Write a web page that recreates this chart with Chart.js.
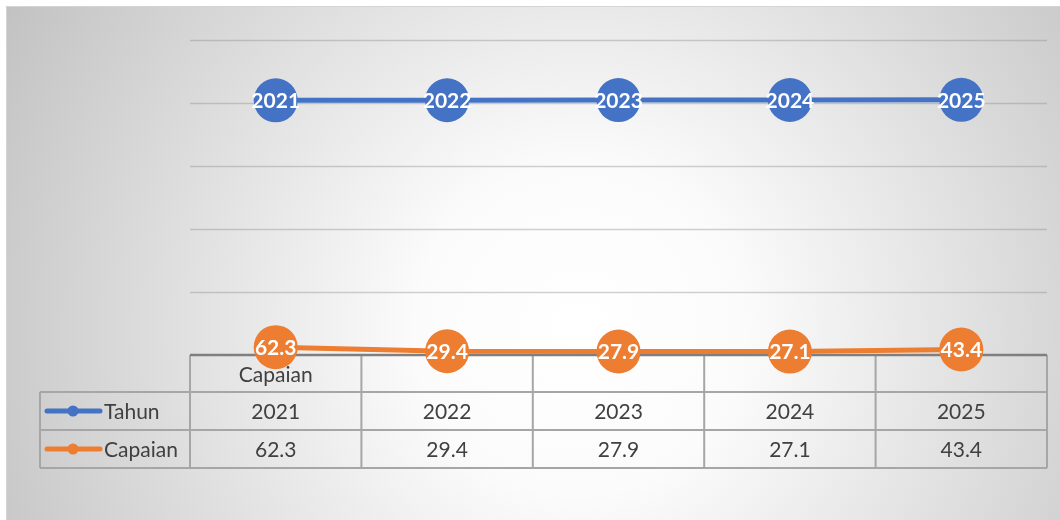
<!DOCTYPE html>
<html>
<head>
<meta charset="utf-8">
<script src="https://cdn.jsdelivr.net/npm/chart.js@4.4.1/dist/chart.umd.min.js"></script>
<style>
  html, body { margin: 0; padding: 0; background: #fff; overflow: hidden; }
  #wrap { width: 1060px; height: 520px; }
</style>
</head>
<body>
<div id="wrap"><canvas id="chart"></canvas></div>
<script>
const headerLabels = ['Capaian', '', '', '', ''];
const tahun = [2021, 2022, 2023, 2024, 2025];
const capaian = [62.3, 29.4, 27.9, 27.1, 43.4];
const seriesNames = ['Tahun', 'Capaian'];
const yTicks = [0, 500, 1000, 1500, 2000, 2500];

const BLUE = '#4472C4';
const ORANGE = '#ED7D31';
const TEXT = '#404040';
const LINE = '#a6a6a6';
const FONT = 'Lato, "Open Sans", sans-serif';

// background with radial gradient + border, then horizontal gridlines
const backdrop = {
    id: 'backdrop',
    beforeDraw(chart) {
        const ctx = chart.ctx;
        ctx.save();
        ctx.fillStyle = '#fff';
        ctx.fillRect(0, 0, chart.width, chart.height);
        const g = ctx.createRadialGradient(580, 330, 0, 580, 330, 660);
        g.addColorStop(0, '#ffffff');
        g.addColorStop(0.25, '#fbfbfb');
        g.addColorStop(1, '#c2c2c2');
        ctx.fillStyle = g;
        ctx.fillRect(7, 7, chart.width - 7, chart.height - 7);
        ctx.strokeStyle = '#d4d4d4';
        ctx.lineWidth = 1;
        ctx.strokeRect(6.5, 6.5, chart.width, chart.height);

        const y = chart.scales.y;
        const area = chart.chartArea;
        ctx.strokeStyle = 'rgba(140,140,140,0.4)';
        ctx.lineWidth = 1.5;
        yTicks.slice(1).forEach(v => {
            const py = Math.round(y.getPixelForValue(v)) + 0.5;
            ctx.beginPath();
            ctx.moveTo(area.left, py);
            ctx.lineTo(area.right, py);
            ctx.stroke();
        });
        ctx.restore();
    }
};

// data table under the plot, columns follow the x scale
const dataTable = {
    id: 'dataTable',
    beforeDatasetsDraw(chart) {
        const ctx = chart.ctx;
        const x = chart.scales.x;
        const area = chart.chartArea;
        const n = headerLabels.length;
        const colW = (area.right - area.left) / n;
        const top = chart.scales.y.getPixelForValue(0);
        const rowH = [37, 38, 38];
        const y1 = top + rowH[0];
        const y2 = y1 + rowH[1];
        const y3 = y2 + rowH[2];
        const leftX = 40;

        ctx.save();
        ctx.strokeStyle = LINE;
        ctx.lineWidth = 2;
        ctx.beginPath();
        [y1, y2, y3].forEach(yy => {
            ctx.moveTo(leftX, yy);
            ctx.lineTo(area.right, yy);
        });
        for (let i = 0; i <= n; i++) {
            const xx = area.left + i * colW;
            ctx.moveTo(xx, top);
            ctx.lineTo(xx, y3);
        }
        ctx.moveTo(leftX, y1);
        ctx.lineTo(leftX, y3);
        ctx.stroke();

        // category axis line on top of the header row
        ctx.strokeStyle = '#7f7f7f';
        ctx.lineWidth = 2.5;
        ctx.beginPath();
        ctx.moveTo(area.left, top);
        ctx.lineTo(area.right, top);
        ctx.stroke();

        ctx.fillStyle = TEXT;
        ctx.font = '21px ' + FONT;
        ctx.textAlign = 'center';
        ctx.textBaseline = 'middle';
        headerLabels.forEach((lab, i) => {
            ctx.fillText(lab, x.getPixelForValue(i), top + rowH[0] / 2 + 2);
        });
        tahun.forEach((v, i) => {
            ctx.fillText(String(v), x.getPixelForValue(i), y1 + rowH[1] / 2 + 1);
        });
        capaian.forEach((v, i) => {
            ctx.fillText(v.toFixed(1), x.getPixelForValue(i), y2 + rowH[2] / 2 + 1);
        });

        // legend keys
        const colors = [BLUE, ORANGE];
        [y1, y2].forEach((yy, k) => {
            const cy = yy + 19;
            ctx.strokeStyle = colors[k];
            ctx.lineWidth = 5;
            ctx.lineCap = 'round';
            ctx.beginPath();
            ctx.moveTo(47, cy);
            ctx.lineTo(100, cy);
            ctx.stroke();
            ctx.fillStyle = colors[k];
            ctx.beginPath();
            ctx.arc(73, cy, 5.5, 0, Math.PI * 2);
            ctx.fill();
            ctx.fillStyle = TEXT;
            ctx.textAlign = 'left';
            ctx.fillText(seriesNames[k], 104, cy + 1);
        });
        ctx.restore();
    }
};

// value labels inside the markers
const pointLabels = {
    id: 'pointLabels',
    afterDatasetsDraw(chart) {
        const ctx = chart.ctx;
        ctx.save();
        ctx.fillStyle = '#fff';
        ctx.font = 'bold 21px ' + FONT;
        ctx.textAlign = 'center';
        ctx.textBaseline = 'middle';
        chart.data.datasets.forEach((ds, di) => {
            chart.getDatasetMeta(di).data.forEach((pt, i) => {
                const v = ds.data[i];
                const txt = di === 0 ? String(v) : v.toFixed(1);
                ctx.fillText(txt, pt.x, pt.y + 1);
            });
        });
        ctx.restore();
    }
};

new Chart(document.getElementById('chart'), {
    type: 'line',
    data: {
        labels: headerLabels,
        datasets: [
            {
                label: seriesNames[0],
                data: tahun,
                borderColor: BLUE,
                backgroundColor: BLUE,
                borderWidth: 5,
                pointRadius: 22,
                pointHoverRadius: 22,
                pointBorderWidth: 0,
                clip: false
            },
            {
                label: seriesNames[1],
                data: capaian,
                borderColor: ORANGE,
                backgroundColor: ORANGE,
                borderWidth: 5,
                pointRadius: 22,
                pointHoverRadius: 22,
                pointBorderWidth: 0,
                clip: false
            }
        ]
    },
    options: {
        responsive: true,
        maintainAspectRatio: false,
        animation: false,
        events: [],
        layout: { autoPadding: false, padding: { left: 190, right: 13, top: 40, bottom: 165 } },
        plugins: {
            legend: { display: false },
            tooltip: { enabled: false }
        },
        scales: {
            x: {
                type: 'category',
                offset: true,
                display: false
            },
            y: {
                min: 0,
                max: 2500,
                display: false
            }
        }
    },
    plugins: [backdrop, dataTable, pointLabels]
});
</script>
</body>
</html>
